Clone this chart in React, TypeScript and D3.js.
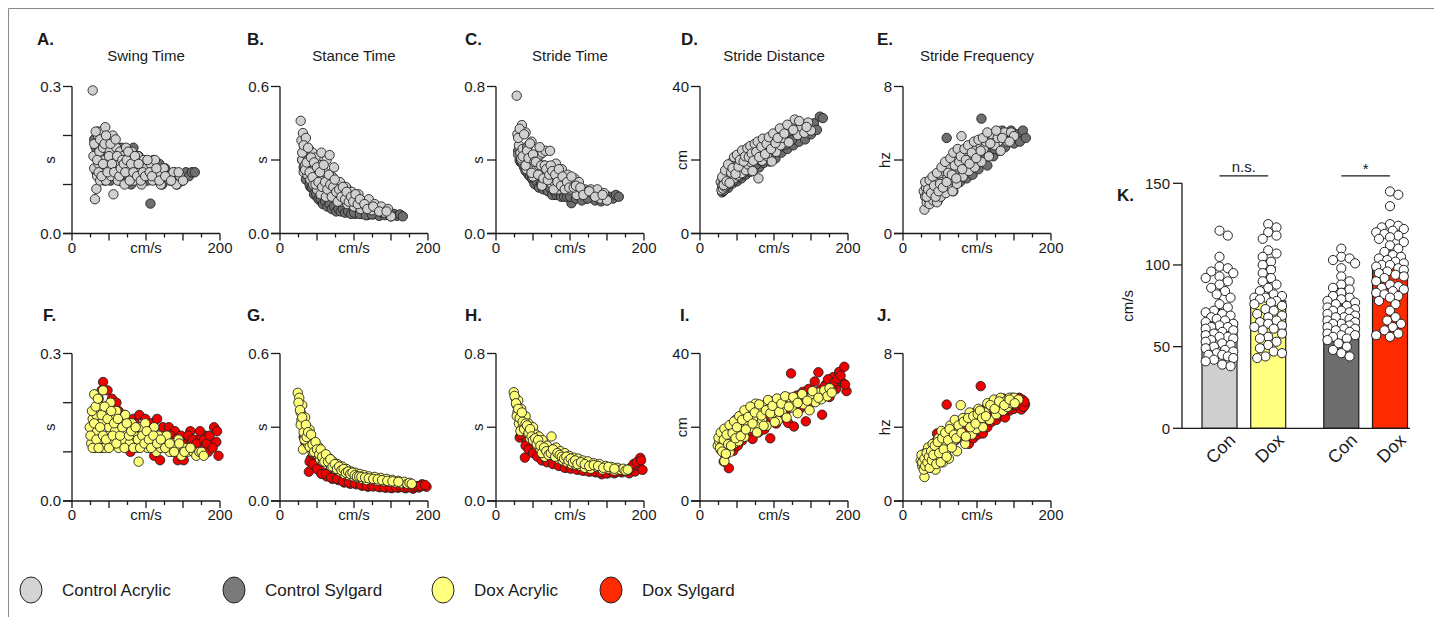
import React from "react";
import * as d3 from "d3";

// stride speeds (cm/s) and gait measures per stride
const speedCA = [28,29,30,31,32,33,34,35,36,37, 38,40,41,42,44,45,46,48,50,51, 53,55,56,58,60,62,63,65,67,69, 71,73,75,77,79,81,84,86,89,91, 94,97,100,103,106,109,112,116,120,124, 128,132,137,141,146,150,
  30,32,34,36,38,40,42,44,46,48, 50,52,54,57,59,61,64,66,68,70, 72,74,76,78,80,83,85,88,90,93, 96,99,102,105,108,114,118,126,134,144];
const swingCA = [0.292,0.158,0.133,0.070,0.183,0.091,0.117,0.200,0.142,0.167, 0.108,0.208,0.125,0.175,0.150,0.217,0.108,0.192,0.133,0.167, 0.117,0.200,0.080,0.150,0.175,0.108,0.142,0.167,0.125,0.158, 0.100,0.175,0.133,0.150,0.117,0.167,0.108,0.142,0.158,0.125, 0.100,0.150,0.133,0.117,0.142,0.108,0.150,0.125,0.100,0.133, 0.117,0.108,0.125,0.100,0.117,0.108,
  0.183,0.208,0.150,0.125,0.192,0.117,0.142,0.183,0.200,0.125, 0.158,0.183,0.142,0.125,0.192,0.158,0.117,0.133,0.150,0.142, 0.125,0.150,0.167,0.108,0.142,0.125,0.158,0.117,0.142,0.108, 0.125,0.117,0.150,0.125,0.117,0.133,0.108,0.117,0.108,0.125];
const stanceCA = [0.460,0.380,0.300,0.410,0.250,0.350,0.280,0.390,0.320,0.240, 0.300,0.340,0.220,0.290,0.330,0.200,0.260,0.310,0.180,0.240, 0.280,0.160,0.330,0.220,0.250,0.150,0.300,0.200,0.320,0.170, 0.230,0.270,0.140,0.190,0.160,0.210,0.130,0.170,0.190,0.120, 0.150,0.170,0.110,0.140,0.160,0.100,0.130,0.110,0.140,0.095, 0.120,0.100,0.110,0.085,0.100,0.070,
  0.33,0.36,0.26,0.29,0.35,0.25,0.31,0.23,0.29,0.20, 0.27,0.21,0.25,0.19,0.28,0.21,0.18,0.24,0.20,0.15, 0.19,0.22,0.17,0.13,0.18,0.15,0.19,0.14,0.17,0.13, 0.15,0.13,0.16,0.12,0.14,0.12,0.10,0.11,0.09,0.09];
const strideCA = [0.75,0.54,0.43,0.48,0.43,0.44,0.40,0.59,0.46,0.41, 0.41,0.55,0.35,0.47,0.48,0.42,0.37,0.50,0.31,0.41, 0.40,0.36,0.41,0.37,0.43,0.26,0.44,0.37,0.45,0.33, 0.33,0.45,0.27,0.34,0.28,0.38,0.24,0.31,0.35,0.25, 0.25,0.32,0.24,0.26,0.30,0.21,0.28,0.24,0.24,0.23, 0.24,0.21,0.24,0.19,0.22,0.18,
  0.52,0.57,0.41,0.42,0.54,0.37,0.45,0.41,0.49,0.33, 0.43,0.39,0.39,0.32,0.47,0.37,0.30,0.37,0.35,0.29, 0.32,0.37,0.34,0.24,0.32,0.28,0.35,0.26,0.31,0.24, 0.28,0.25,0.31,0.25,0.26,0.25,0.21,0.23,0.20,0.21];
const distCA = [14.0,11.8,13.0,12.2,14.5,12.8,13.6,16.0,15.2,13.4, 17.0,15.6,18.4,14.6,19.6,16.8,15.0,20.4,17.6,15.8, 19.0,21.0,16.4,18.2,22.4,17.2,20.2,18.8,22.0,19.4, 17.0,23.0,20.6,21.6,15.0,24.2,19.8,22.8,25.2,21.0, 23.8,19.6,26.4,22.2,27.6,24.0,26.0,28.4,24.8,29.6, 31.0,26.8,29.0,27.4,30.2,28.0,
  15.4,13.2,17.2,14.2,18.8,13.8,16.6,17.8,20.8,16.2, 21.4,18.2,20.0,22.6,19.6,21.0,23.2,20.8,23.8,21.8, 19.8,24.4,22.2,25.0,20.8,23.6,25.8,21.6,24.4,26.2, 23.0,27.2,24.6,26.0,28.6,27.2,29.6,28.2,30.6,29.0];
const freqCA = [2.3,1.3,2.0,2.5,1.7,2.2,1.9,2.6,1.6,2.4, 2.0,2.8,1.8,2.3,3.0,2.1,1.7,2.6,3.2,2.0, 2.8,2.4,3.4,2.2,3.0,2.6,3.6,2.9,2.3,3.3, 4.0,2.7,3.6,4.3,5.3,3.1,3.8,4.5,3.4,4.1, 4.7,3.6,4.3,4.9,3.9,4.6,5.0,4.2,5.4,4.8, 5.2,4.5,5.5,5.0,5.5,5.3,
  2.8,2.0,2.4,2.9,2.2,3.1,2.6,2.0,3.3,2.3, 2.7,3.6,2.5,3.9,2.8,3.3,4.1,3.2,4.4,3.7, 3.0,4.6,3.9,4.2,3.5,4.6,4.0,4.8,3.8,4.4, 5.0,4.1,5.1,4.5,5.2,5.5,4.9,5.6,5.2,5.0];

const speedCS = [30,33,35,38,41,44,47,50,53,56, 59,62,65,68,71,74,77,80,83,86, 90,94,98,102,106,110,114,118,122,126, 130,134,138,142,146,150,154,158,162,166,
  32,36,40,43,46,49,52,55,58,61, 64,67,70,73,76,79,82,85,88,92, 96,100,108,116,124];
const swingCS = [0.192,0.125,0.208,0.150,0.183,0.108,0.167,0.133,0.192,0.117, 0.158,0.175,0.108,0.142,0.167,0.125,0.158,0.100,0.175,0.133, 0.158,0.117,0.142,0.108,0.061,0.150,0.125,0.142,0.100,0.133, 0.117,0.108,0.125,0.100,0.117,0.108,0.125,0.117,0.125,0.125,
  0.175,0.200,0.133,0.158,0.183,0.142,0.108,0.167,0.125,0.150, 0.117,0.175,0.133,0.167,0.108,0.142,0.117,0.150,0.125,0.108, 0.133,0.125,0.117,0.108,0.117];
const stanceCS = [0.300,0.260,0.220,0.240,0.190,0.210,0.170,0.150,0.180,0.130, 0.150,0.120,0.140,0.110,0.120,0.100,0.130,0.095,0.110,0.090, 0.185,0.085,0.100,0.080,0.090,0.080,0.095,0.075,0.090,0.078, 0.088,0.072,0.085,0.075,0.082,0.070,0.080,0.072,0.078,0.070,
  0.27,0.25,0.20,0.19,0.16,0.16,0.14,0.14,0.12,0.13, 0.11,0.12,0.10,0.11,0.09,0.10,0.09,0.10,0.085,0.09, 0.08,0.085,0.08,0.075,0.078];
const strideCS = [0.45,0.39,0.42,0.36,0.37,0.32,0.33,0.29,0.36,0.26, 0.30,0.29,0.25,0.26,0.28,0.23,0.28,0.21,0.27,0.23, 0.33,0.21,0.24,0.165,0.22,0.23,0.22,0.21,0.19,0.21, 0.20,0.18,0.21,0.175,0.20,0.18,0.20,0.19,0.21,0.20,
  0.40,0.38,0.34,0.33,0.31,0.30,0.27,0.28,0.25,0.27, 0.24,0.26,0.23,0.25,0.21,0.23,0.21,0.22,0.20,0.20, 0.20,0.20,0.19,0.18,0.19];
const distCS = [11.2,12.6,14.4,12.4,15.0,13.6,15.6,14.2,17.2,15.0, 17.6,16.0,18.6,16.8,19.6,17.6,20.4,18.0,21.8,19.2, 22.6,19.6,23.2,20.4,24.4,22.0,25.4,23.0,27.6,24.0, 29.0,25.0,28.4,25.6,29.6,27.0,30.0,28.2,31.8,31.4,
  11.6,13.0,13.8,14.6,14.4,15.8,15.4,16.6,16.2,17.8, 17.4,18.4,18.2,19.4,18.8,20.2,19.8,21.2,20.6,21.8, 21.2,22.6,23.6,24.2,25.4];
const freqCS = [2.1,2.6,1.8,2.4,2.0,2.8,1.8,2.4,3.1,2.2, 5.2,2.6,3.4,2.3,3.0,3.8,2.8,3.4,4.2,3.0, 3.9,3.2,4.4,3.5,6.25,4.1,3.7,4.8,4.2,5.3, 4.5,5.6,4.7,5.1,5.6,4.9,5.4,5.0,5.6,5.2,
  2.0,1.9,2.2,2.1,2.4,2.3,2.7,2.5,2.9,2.7, 3.1,2.9,3.3,3.1,3.5,3.3,3.7,3.5,3.8,3.6, 4.0,3.8,4.2,4.4,4.6];

const speedDA = [24,26,28,29,30,31,33,34,36,38, 40,42,44,46,48,50,52,54,56,58, 60,63,66,69,72,75,78,81,84,87, 90,93,96,99,102,105,108,111,114,117, 120,124,128,132,136,140,144,148,152,156, 160,164,168,172,175,178,
  25,27,28,30,32,33,35,36,38,40, 42,44,46,48,50,53,55,57,60,62, 65,68,71,74,77,80,83,86,89,92, 95,98,101,104,107,110,115,120,126,132, 138,145,152,160];
const swingDA = [0.150,0.117,0.167,0.133,0.217,0.108,0.175,0.142,0.125,0.192, 0.158,0.225,0.108,0.183,0.133,0.150,0.200,0.117,0.167,0.142, 0.183,0.108,0.158,0.125,0.175,0.142,0.117,0.158,0.133,0.108, 0.080,0.150,0.125,0.158,0.108,0.142,0.117,0.150,0.100,0.133, 0.108,0.125,0.133,0.100,0.117,0.108,0.125,0.092,0.108,0.100, 0.108,0.100,0.092,0.100,0.100,0.092,
  0.133,0.183,0.108,0.158,0.192,0.125,0.208,0.108,0.150,0.175, 0.133,0.192,0.125,0.167,0.108,0.183,0.133,0.158,0.117,0.167, 0.133,0.150,0.108,0.158,0.133,0.142,0.108,0.150,0.125,0.108, 0.133,0.117,0.142,0.125,0.108,0.133,0.117,0.125,0.108,0.117, 0.100,0.117,0.100,0.108];
const stanceDA = [0.440,0.420,0.360,0.330,0.390,0.210,0.300,0.340,0.270,0.230, 0.290,0.250,0.200,0.230,0.210,0.190,0.220,0.170,0.200,0.160, 0.180,0.150,0.175,0.140,0.160,0.130,0.150,0.120,0.140,0.110, 0.130,0.105,0.120,0.100,0.115,0.095,0.110,0.090,0.105,0.085, 0.100,0.088,0.098,0.082,0.094,0.080,0.090,0.078,0.086,0.075, 0.082,0.072,0.078,0.070,0.074,0.070,
  0.40,0.37,0.31,0.34,0.28,0.25,0.31,0.26,0.28,0.22, 0.27,0.23,0.20,0.24,0.21,0.19,0.21,0.18,0.16,0.19, 0.16,0.17,0.14,0.15,0.13,0.14,0.125,0.13,0.115,0.12, 0.11,0.115,0.105,0.10,0.10,0.098,0.095,0.092,0.09,0.088, 0.085,0.082,0.08,0.078];
const strideDA = [0.590,0.560,0.520,0.480,0.545,0.420,0.470,0.500,0.400,0.440, 0.460,0.370,0.420,0.340,0.390,0.400,0.320,0.360,0.300,0.350, 0.280,0.330,0.240,0.300,0.270,0.350,0.250,0.290,0.230,0.270, 0.220,0.260,0.210,0.245,0.200,0.235,0.195,0.230,0.190,0.220, 0.180,0.215,0.175,0.205,0.185,0.200,0.170,0.190,0.175,0.185, 0.165,0.180,0.170,0.175,0.165,0.170,
  0.57,0.53,0.46,0.50,0.45,0.38,0.48,0.43,0.39,0.42, 0.41,0.37,0.39,0.35,0.33,0.34,0.31,0.33,0.30,0.26, 0.29,0.27,0.25,0.26,0.28,0.24,0.26,0.25,0.24,0.23, 0.24,0.22,0.23,0.21,0.22,0.20,0.21,0.20,0.19,0.195, 0.19,0.18,0.185,0.175];
const distDA = [15.0,16.2,13.8,17.4,15.2,18.4,10.8,14.4,16.8,19.4, 13.2,17.8,20.6,15.6,22.0,18.4,16.2,21.0,19.0,23.0, 17.4,21.6,24.4,19.8,22.6,26.4,20.6,24.2,22.0,26.0, 20.4,25.0,27.0,22.8,25.6,21.8,27.2,24.4,26.6,22.6, 28.0,25.4,27.4,23.8,28.6,26.2,27.8,24.6,28.8,26.8, 29.4,27.6,30.0,28.4,30.6,29.4,
  17.2,14.4,18.6,13.4,16.6,19.6,12.8,18.0,15.4,20.6, 15.0,18.4,21.6,17.0,20.0,23.0,17.6,22.0,24.6,19.4, 22.8,25.6,21.0,24.0,18.6,26.2,23.2,20.4,24.6,27.4, 23.8,25.8,21.4,27.8,24.2,26.4,28.4,25.6,28.2,26.6, 29.0,27.2,29.8,28.0];
// panel J was drawn from a shorter speed range
const jSpeedDA = [24,26,27,28,29,30,31,32,34,35, 37,38,40,42,44,46,48,50,52,54, 56,58,60,62,64,67,70,73,76,78, 81,84,87,90,93,96,99,102,105,108, 111,114,117,120,123,126,129,132,135,138, 141,144,147,150,153,156,
  25,26,28,29,30,32,33,35,36,38, 39,41,43,45,47,49,51,53,55,57, 59,61,63,66,69,72,75,79,82,85, 88,91,95,98,101,104,107,112,118,124, 130,137,144,151];
const freqDA = [2.2,1.9,2.4,2.0,1.3,2.6,1.8,2.3,2.9,2.0, 2.5,1.8,3.1,2.2,1.7,2.8,3.4,2.4,3.8,2.1, 3.0,2.6,3.6,2.3,4.1,3.2,4.4,2.7,3.8,5.2, 4.5,3.1,4.2,4.8,3.6,4.4,3.9,5.0,4.3,4.0, 4.8,5.3,4.4,5.1,5.5,4.7,5.2,5.6,4.9,5.4, 5.1,5.6,5.3,5.6,5.4,5.5,
  2.5,2.1,1.7,2.3,1.9,2.6,2.1,2.4,1.8,2.7, 2.2,2.5,3.0,2.0,3.2,2.6,2.1,3.4,2.8,3.7, 2.4,3.3,3.9,2.9,3.6,3.4,4.1,3.7,4.3,3.5, 4.5,4.0,4.6,4.2,4.7,4.9,4.5,4.6,5.2,5.0, 5.4,5.2,5.5,5.3];

const speedDS = [32,36,39,42,45,48,51,54,57,60, 63,67,71,75,79,83,87,91,95,99, 103,107,111,115,119,123,127,131,135,139, 143,147,151,155,160,165,170,175,180,184, 188,192,195,198,
  34,40,44,50,56,62,69,77,85,93, 101,109,117,125,133,141,149,157,163,168, 173,178,182,186,190,196];
const swingDS = [0.125,0.208,0.108,0.242,0.192,0.225,0.117,0.208,0.158,0.200, 0.183,0.133,0.175,0.158,0.100,0.167,0.142,0.175,0.117,0.167, 0.133,0.158,0.092,0.167,0.083,0.150,0.117,0.150,0.100,0.142, 0.083,0.133,0.083,0.117,0.142,0.100,0.125,0.108,0.133,0.100, 0.117,0.150,0.120,0.092,
  0.150,0.225,0.175,0.192,0.175,0.150,0.158,0.142,0.158,0.150, 0.150,0.142,0.133,0.125,0.133,0.125,0.117,0.133,0.125,0.117, 0.142,0.125,0.117,0.133,0.108,0.142];
const stanceDS = [0.260,0.220,0.119,0.173,0.190,0.140,0.160,0.120,0.112,0.140, 0.100,0.120,0.090,0.110,0.085,0.100,0.075,0.090,0.070,0.085, 0.068,0.080,0.062,0.075,0.058,0.070,0.060,0.072,0.056,0.066, 0.054,0.064,0.052,0.060,0.054,0.062,0.052,0.058,0.050,0.060, 0.055,0.068,0.062,0.058,
  0.24,0.16,0.15,0.13,0.11,0.11,0.095,0.09,0.08,0.075, 0.072,0.066,0.062,0.060,0.058,0.056,0.055,0.056,0.058,0.054, 0.056,0.055,0.058,0.060,0.062,0.065];
const strideDS = [0.344,0.380,0.235,0.330,0.300,0.320,0.270,0.290,0.250,0.280, 0.240,0.260,0.220,0.240,0.210,0.230,0.195,0.215,0.181,0.205, 0.180,0.200,0.170,0.195,0.165,0.190,0.160,0.185,0.155,0.180, 0.145,0.175,0.150,0.172,0.150,0.168,0.155,0.165,0.150,0.175, 0.160,0.190,0.234,0.169,
  0.36,0.30,0.28,0.26,0.24,0.22,0.21,0.20,0.19,0.18, 0.175,0.17,0.165,0.16,0.16,0.155,0.15,0.16,0.158,0.16, 0.162,0.165,0.18,0.20,0.21,0.22];
const distDS = [10.7,14.2,8.9,15.4,13.6,16.6,15.0,17.8,16.4,19.2, 17.6,20.2,16.8,21.4,18.6,22.6,19.4,24.0,17.0,25.2, 21.0,26.4,22.6,27.6,21.2,34.6,20.2,28.6,25.0,29.6, 21.6,30.4,26.8,32.4,34.9,23.4,31.6,28.2,33.6,30.4, 35.0,32.2,36.4,29.8,
  12.4,13.8,15.8,16.0,18.8,18.6,19.0,20.2,21.0,22.4, 22.8,24.0,24.6,26.0,26.6,27.6,28.6,29.4,30.2,31.0, 33.0,30.6,32.4,33.2,34.0,31.6];
const jSpeedDS = [30,34,38,41,44,46,49,52,55,59, 62,65,68,71,74,77,80,83,86,89, 92,95,98,101,105,108,111,114,117,120, 123,126,129,132,135,138,141,144,147,150, 153,157,160,165,
  33,40,47,54,60,66,72,78,84,90, 96,102,107,112,118,124,130,136,142,148, 152,155,158,161,163,164];
const freqDS = [2.4,2.0,2.8,2.3,3.2,3.66,2.7,3.3,2.9,5.23, 3.4,3.0,3.8,3.3,4.1,3.5,4.3,3.7,4.5,3.1, 4.6,3.4,4.8,3.6,6.23,3.66,5.0,4.0,5.2,4.3, 5.3,4.4,5.5,4.6,5.56,4.53,5.3,4.9,5.6,5.0, 5.5,5.6,4.96,5.23,
  2.2,2.6,3.0,3.1,3.2,3.6,3.5,3.9,3.9,4.2, 4.0,4.4,4.3,4.6,4.7,4.9,4.8,5.1,5.0,5.3, 5.2,5.4,5.3,5.5,5.1,5.4];

// panel K: mean speed per animal/trial
const barLabels = ["Con", "Dox", "Con", "Dox"];
const barMeans = [65.3, 78, 70.4, 98];
const barSD = [21, 20.6, 15, 20.3];
const dotsConA = [121,118,105,99,98,96,95,93,92,90,88,86,84,82,80,76,74,72,71,70,69,68,67,66,65,64,63,62,62,61,60,59,58,57,56,56,55,54,53,52,51,50,49,48,47,46,45,45,44,43,42,41,39,38];
const dotsDoxA = [125,123,120,118,116,109,107,105,102,100,97,95,92,90,88,86,84,82,81,80,80,79,78,77,76,75,73,72,70,69,68,66,65,64,63,62,61,60,58,56,55,53,51,49,47,46,44,43];
const dotsConS = [110,105,104,103,101,98,93,90,88,86,85,83,81,80,79,78,77,76,75,74,73,72,72,71,70,69,68,68,67,66,65,64,64,63,62,61,61,60,59,58,57,57,56,55,54,52,50,48,46,44];
const dotsDoxS = [145,143,136,125,124,123,122,121,120,119,118,117,116,114,112,110,108,106,105,104,103,102,101,100,100,99,98,97,96,95,94,93,92,90,88,87,86,85,84,83,82,81,80,78,76,72,68,66,64,62,60,58,57,56];

const legendNames = ["Control Acrylic", "Control Sylgard", "Dox Acrylic", "Dox Sylgard"];

const FONT = "'Liberation Sans', Arial, Helvetica, sans-serif";
const INK = "#1a1a1a";
const fill = { CA: "#d0d0d0", CS: "#6e6e6e", DA: "#ffff7a", DS: "#f20000" };
const legendFill = ["#d4d4d4", "#7a7a7a", "#ffff80", "#ff2a00"];
const barFill = ["#cfcfcf", "#ffff80", "#6e6e6e", "#ff2a00"];

const COL_X = [72, 280, 496, 700, 903];
const AXIS_LEN = 148;
const ROW_BASE = [233.5, 501];
const ROW_TOP = [86.5, 353.5];
const R = 4.7;

type Ser = [number[], number[], string];
type Panel = {
  letter: string; letterX: number; title?: string; col: number; row: number;
  yMax: number; yTicks: number[]; fmt: (v: number) => string; unit: string; series: Ser[];
};

const f1 = d3.format(".1f");
const f0 = d3.format("d");

const panels: Panel[] = [
  { letter: "A.", letterX: 37, title: "Swing Time", col: 0, row: 0, yMax: 0.3, yTicks: [0, 0.1, 0.2, 0.3], fmt: f1, unit: "s", series: [[speedCS, swingCS, fill.CS], [speedCA, swingCA, fill.CA]] },
  { letter: "B.", letterX: 247, title: "Stance Time", col: 1, row: 0, yMax: 0.6, yTicks: [0, 0.3, 0.6], fmt: f1, unit: "s", series: [[speedCS, stanceCS, fill.CS], [speedCA, stanceCA, fill.CA]] },
  { letter: "C.", letterX: 465, title: "Stride Time", col: 2, row: 0, yMax: 0.8, yTicks: [0, 0.4, 0.8], fmt: f1, unit: "s", series: [[speedCS, strideCS, fill.CS], [speedCA, strideCA, fill.CA]] },
  { letter: "D.", letterX: 681, title: "Stride Distance", col: 3, row: 0, yMax: 40, yTicks: [0, 20, 40], fmt: f0, unit: "cm", series: [[speedCS, distCS, fill.CS], [speedCA, distCA, fill.CA]] },
  { letter: "E.", letterX: 877, title: "Stride Frequency", col: 4, row: 0, yMax: 8, yTicks: [0, 4, 8], fmt: f0, unit: "hz", series: [[speedCS, freqCS, fill.CS], [speedCA, freqCA, fill.CA]] },
  { letter: "F.", letterX: 43, col: 0, row: 1, yMax: 0.3, yTicks: [0, 0.1, 0.2, 0.3], fmt: f1, unit: "s", series: [[speedDS, swingDS, fill.DS], [speedDA, swingDA, fill.DA]] },
  { letter: "G.", letterX: 247, col: 1, row: 1, yMax: 0.6, yTicks: [0, 0.3, 0.6], fmt: f1, unit: "s", series: [[speedDS, stanceDS, fill.DS], [speedDA, stanceDA, fill.DA]] },
  { letter: "H.", letterX: 465, col: 2, row: 1, yMax: 0.8, yTicks: [0, 0.4, 0.8], fmt: f1, unit: "s", series: [[speedDS, strideDS, fill.DS], [speedDA, strideDA, fill.DA]] },
  { letter: "I.", letterX: 680, col: 3, row: 1, yMax: 40, yTicks: [0, 20, 40], fmt: f0, unit: "cm", series: [[speedDS, distDS, fill.DS], [speedDA, distDA, fill.DA]] },
  { letter: "J.", letterX: 877, col: 4, row: 1, yMax: 8, yTicks: [0, 4, 8], fmt: f0, unit: "hz", series: [[jSpeedDS, freqDS, fill.DS], [jSpeedDA, freqDA, fill.DA]] },
];

function ScatterPanel({ p }: { p: Panel }) {
  const x0 = COL_X[p.col];
  const yb = ROW_BASE[p.row];
  const x = d3.scaleLinear().domain([0, 200]).range([x0, x0 + AXIS_LEN]);
  const y = d3.scaleLinear().domain([0, p.yMax]).range([yb, ROW_TOP[p.row]]);
  const xt = d3.range(0, 201, 25);
  const last = p.yTicks[p.yTicks.length - 1];
  const letterY = p.row === 0 ? 45 : 321;
  return (
    <g>
      <text x={p.letterX} y={letterY} fontSize={17} fontWeight="bold" fill={INK}>{p.letter}</text>
      {p.title && (
        <text x={x(100)} y={61} fontSize={15} textAnchor="middle" fill={INK}>{p.title}</text>
      )}
      {p.series.map(([xs, ys, c], si) => (
        <g key={si}>
          {xs.map((v, i) => (
            <circle key={i} cx={x(v)} cy={y(ys[i])} r={R} fill={c} stroke="#222" strokeWidth={0.9} />
          ))}
        </g>
      ))}
      <line x1={x0} x2={x0} y1={y(last)} y2={yb} stroke={INK} strokeWidth={1.3} />
      <line x1={x0 - 9} x2={x(200)} y1={yb} y2={yb} stroke={INK} strokeWidth={1.3} />
      {p.yTicks.map((t) => (
        <line key={t} x1={x0 - 9} x2={x0} y1={y(t)} y2={y(t)} stroke={INK} strokeWidth={1.3} />
      ))}
      {xt.map((t) => (
        <line key={t} x1={x(t)} x2={x(t)} y1={yb} y2={yb + (t % 50 === 0 ? 7 : 4)} stroke={INK} strokeWidth={1.3} />
      ))}
      {[0, last].map((t) => (
        <text key={t} x={x0 - 11} y={y(t)} dy="0.35em" fontSize={15} textAnchor="end" fill={INK}>{p.fmt(t)}</text>
      ))}
      <text transform={`translate(${x0 - (p.yTicks.length === 4 ? 22 : 18)},${(yb + y(last)) / 2}) rotate(-90)`} dy="0.35em" fontSize={15} textAnchor="middle" fill={INK}>{p.unit}</text>
      <text x={x(0)} y={yb + 19} fontSize={15} textAnchor="middle" fill={INK}>0</text>
      <text x={x(200)} y={yb + 19} fontSize={15} textAnchor="middle" fill={INK}>200</text>
      <text x={x(100)} y={yb + 19} fontSize={15} textAnchor="middle" fill={INK}>cm/s</text>
    </g>
  );
}

// greedy beeswarm: horizontal offsets for dots sitting on a bar
function swarm(values: number[], yPos: (v: number) => number, r: number, maxOff: number) {
  const placed: { dx: number; y: number }[] = [];
  const sorted = values.slice().sort((a, b) => b - a);
  const steps = [0, 1, -1, 2, -2, 3, -3, 4, -4, 5, -5].map((k) => k * r * 0.6);
  for (const v of sorted) {
    const py = yPos(v);
    let best = 0;
    let bestD = -1;
    for (const dx of steps) {
      if (Math.abs(dx) > maxOff) continue;
      let minD = Infinity;
      for (const q of placed) {
        const d = Math.hypot(q.dx - dx, q.y - py);
        if (d < minD) minD = d;
      }
      if (minD >= 2 * r - 1.8) { best = dx; bestD = Infinity; break; }
      if (minD > bestD) { bestD = minD; best = dx; }
    }
    placed.push({ dx: best, y: py });
  }
  return placed;
}

function BarPanel() {
  const y = d3.scaleLinear().domain([0, 150]).range([428.3, 183.3]);
  const slots = [0, 1, 2.5, 3.5];
  const x = d3.scaleLinear().domain([0, 3.5]).range([1219.5, 1390]);
  const bw = 35;
  const groups = [dotsConA, dotsDoxA, dotsConS, dotsDoxS];
  const axX = 1182;
  const sigY = y(154.5);
  return (
    <g>
      <text x={1117} y={201} fontSize={17} fontWeight="bold" fill={INK}>K.</text>
      {barMeans.map((m, i) => {
        const cx = x(slots[i]);
        return (
          <g key={i}>
            <rect x={cx - bw / 2} y={y(m)} width={bw} height={y(0) - y(m)} fill={barFill[i]} stroke={INK} strokeWidth={1.2} />
            <line x1={cx} x2={cx} y1={y(m)} y2={y(m + barSD[i])} stroke={INK} strokeWidth={1.2} />
            <line x1={cx - 8} x2={cx + 8} y1={y(m + barSD[i])} y2={y(m + barSD[i])} stroke={INK} strokeWidth={1.2} />
          </g>
        );
      })}
      {groups.map((vals, gi) => {
        const cx = x(slots[gi]);
        return (
          <g key={gi}>
            {swarm(vals, y, 4.6, 14).map((d, i) => (
              <circle key={i} cx={cx + d.dx} cy={d.y} r={4.6} fill="#fff" stroke="#222" strokeWidth={1} />
            ))}
          </g>
        );
      })}
      <line x1={axX} x2={axX} y1={y(150)} y2={y(0)} stroke={INK} strokeWidth={1.3} />
      <line x1={axX} x2={1410} y1={y(0)} y2={y(0)} stroke={INK} strokeWidth={1.3} />
      {[0, 50, 100, 150].map((t) => (
        <g key={t}>
          <line x1={axX - 9} x2={axX} y1={y(t)} y2={y(t)} stroke={INK} strokeWidth={1.3} />
          <text x={axX - 12} y={y(t)} dy="0.35em" fontSize={15} textAnchor="end" fill={INK}>{t}</text>
        </g>
      ))}
      <text transform={`translate(1128,${y(75)}) rotate(-90)`} dy="0.35em" fontSize={15} textAnchor="middle" fill={INK}>cm/s</text>
      {barLabels.map((l, i) => (
        <text key={i} transform={`translate(${x(slots[i]) + 17},${y(0) + 13}) rotate(-45)`} fontSize={18} textAnchor="end" fill={INK}>{l}</text>
      ))}
      <line x1={x(0)} x2={x(1)} y1={sigY} y2={sigY} stroke={INK} strokeWidth={1.2} />
      <text x={(x(0) + x(1)) / 2} y={sigY - 4} fontSize={15} textAnchor="middle" fill={INK}>n.s.</text>
      <line x1={x(2.5)} x2={x(3.5)} y1={sigY} y2={sigY} stroke={INK} strokeWidth={1.2} />
      <text x={(x(2.5) + x(3.5)) / 2} y={sigY - 2} fontSize={15} textAnchor="middle" fill={INK}>*</text>
    </g>
  );
}

function Legend() {
  const xs = [31, 234, 443, 611];
  return (
    <g>
      {legendNames.map((n, i) => (
        <g key={n}>
          <ellipse cx={xs[i]} cy={590} rx={11} ry={13} fill={legendFill[i]} stroke="#222" strokeWidth={1} />
          <text x={xs[i] + 31} y={590} dy="0.35em" fontSize={17} fill={INK}>{n}</text>
        </g>
      ))}
    </g>
  );
}

export default function App() {
  return (
    <svg width={1434} height={617} style={{ position: "absolute", left: 0, top: 0, background: "#fff" }} fontFamily={FONT}>
      <rect width={1434} height={617} fill="#fff" />
      <path d="M8.5 617 V8.5 H1434" fill="none" stroke="#8a8a8a" strokeWidth={1} />
      {panels.map((p) => (
        <ScatterPanel key={p.letter} p={p} />
      ))}
      <BarPanel />
      <Legend />
    </svg>
  );
}
